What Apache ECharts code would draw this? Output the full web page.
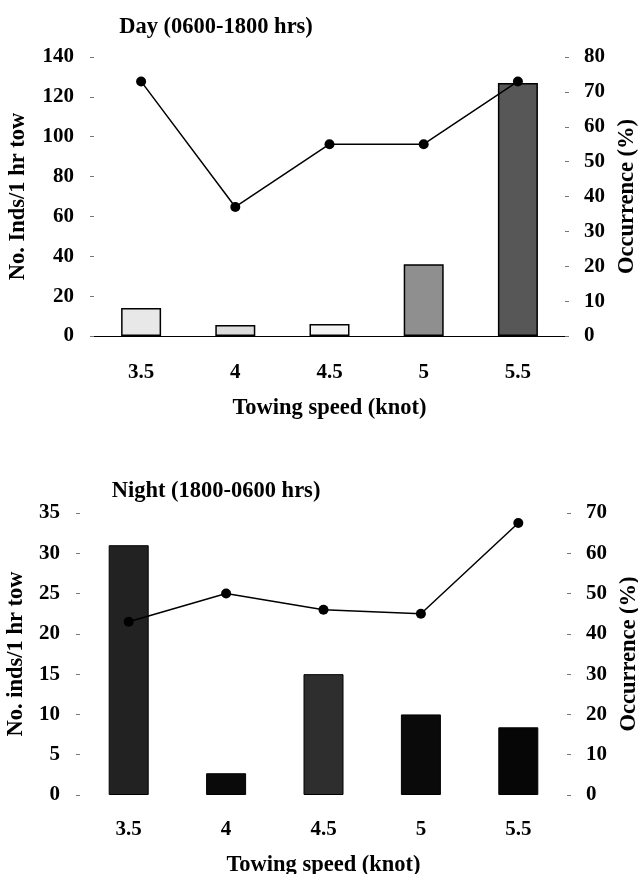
<!DOCTYPE html>
<html>
<head>
<meta charset="utf-8">
<script src="https://cdn.jsdelivr.net/npm/echarts@6/dist/echarts.min.js"></script>
<style>
  html, body { margin: 0; padding: 0; background: #fff; }
  #chart { width: 638px; height: 874px; }
</style>
</head>
<body>
<div id="chart"></div>
<script>
// ---- data ----
const speeds = ['3.5', '4', '4.5', '5', '5.5'];
const dayInds = [14, 5.5, 6, 36, 127];      // No. Inds / 1 hr tow (bars)
const dayOcc = [73, 37, 55, 55, 73];        // Occurrence % (line)
const nightInds = [31, 2.7, 15, 10, 8.4];
const nightOcc = [43, 50, 46, 45, 67.5];

const dayTitle = 'Day (0600-1800 hrs)';
const nightTitle = 'Night (1800-0600 hrs)';
const xName = 'Towing speed (knot)';
const dayLeftName = 'No. Inds/1 hr tow';
const nightLeftName = 'No. inds/1 hr tow';
const rightName = 'Occurrence (%)';

// ---- styles ----
const dayBarColors = ['#e8e8e8', '#dcdcdc', '#f3f3f3', '#8f8f8f', '#575757'];
const nightBarColors = ['#222222', '#0a0a0a', '#2e2e2e', '#0a0a0a', '#060606'];
const FONT = 'Liberation Serif';
const tickTxt = { fontFamily: FONT, fontWeight: 'bold', fontSize: 21, color: '#000' };
const nameTxt = { fontFamily: FONT, fontWeight: 'bold', fontSize: 22.5, color: '#000' };

function valAxis(grid, min, max, interval, name, gap, pos) {
  return {
    type: 'value', gridIndex: grid, min: min, max: max, interval: interval, position: pos,
    name: name, nameLocation: 'middle', nameGap: gap, nameRotate: 90,
    nameTextStyle: nameTxt,
    axisLine: { show: false },
    axisTick: { show: true, length: 4, lineStyle: { color: '#777', width: 1 } },
    splitLine: { show: false },
    axisLabel: Object.assign({}, tickTxt, { margin: pos === 'left' ? 20 : 19 })
  };
}

const option = {
  animation: false,
  backgroundColor: '#fff',
  title: [
    { text: dayTitle, left: 211, top: 11, textAlign: 'center', textStyle: nameTxt },
    { text: nightTitle, left: 211, top: 475, textAlign: 'center', textStyle: nameTxt }
  ],
  grid: [
    { left: 94, right: 73, top: 57, height: 279, containLabel: false, outerBoundsMode: 'none' },
    { left: 80, right: 71, top: 513, height: 282, containLabel: false, outerBoundsMode: 'none' }
  ],
  xAxis: [
    {
      type: 'category', gridIndex: 0, data: speeds,
      name: xName, nameLocation: 'middle', nameGap: 61, nameTextStyle: nameTxt,
      axisLine: { show: true, lineStyle: { color: '#000', width: 1 } },
      axisTick: { show: false },
      axisLabel: Object.assign({}, tickTxt, { margin: 26 })
    },
    {
      type: 'category', gridIndex: 1, data: speeds,
      name: xName, nameLocation: 'middle', nameGap: 59, nameTextStyle: nameTxt,
      axisLine: { show: false },
      axisTick: { show: false },
      axisLabel: Object.assign({}, tickTxt, { margin: 24 })
    }
  ],
  yAxis: [
    valAxis(0, 0, 140, 20, dayLeftName, 64, 'left'),
    valAxis(0, 0, 80, 10, rightName, 51, 'right'),
    valAxis(1, 0, 35, 5, nightLeftName, 51, 'left'),
    valAxis(1, 0, 70, 10, rightName, 49, 'right')
  ],
  series: [
    {
      type: 'bar', xAxisIndex: 0, yAxisIndex: 0, barWidth: 40,
      data: dayInds.map((v, i) => ({ value: v, itemStyle: { color: dayBarColors[i] } })),
      itemStyle: { borderColor: '#000', borderWidth: 1.5 }
    },
    {
      type: 'line', xAxisIndex: 0, yAxisIndex: 1, data: dayOcc, z: 5,
      symbol: 'circle', symbolSize: 10,
      lineStyle: { color: '#000', width: 1.5 }, itemStyle: { color: '#000' }
    },
    {
      type: 'bar', xAxisIndex: 1, yAxisIndex: 2, barWidth: 40,
      data: nightInds.map((v, i) => ({ value: v, itemStyle: { color: nightBarColors[i] } })),
      itemStyle: { borderColor: '#000', borderWidth: 1 }
    },
    {
      type: 'line', xAxisIndex: 1, yAxisIndex: 3, data: nightOcc, z: 5,
      symbol: 'circle', symbolSize: 10,
      lineStyle: { color: '#000', width: 1.5 }, itemStyle: { color: '#000' }
    }
  ]
};

const chart = echarts.init(document.getElementById('chart'), null, { renderer: 'canvas' });
chart.setOption(option);
</script>
</body>
</html>
